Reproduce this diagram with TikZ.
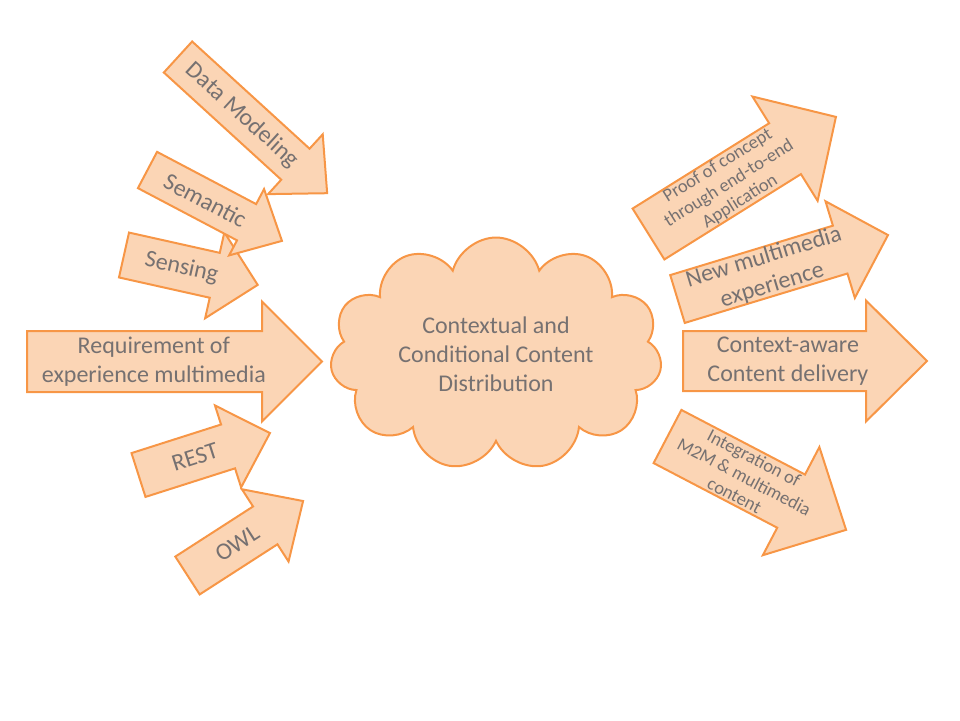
\documentclass[tikz,border=0pt]{standalone}
\usepackage{fontspec}
\setmainfont{Carlito}
\usetikzlibrary{shapes.symbols}
\definecolor{peach}{HTML}{FBD5B5}
\definecolor{orangeline}{HTML}{F79646}
\definecolor{textgray}{HTML}{767171}
% block arrow: name, tail x, tail y, angle, length, shaft, head width, head length, text
\newcommand{\blockarrow}[9]{%
  \begin{scope}[shift={(#2,#3)},rotate=#4]
    \filldraw[blockfill] (0,{-#6/2}) -- ({#5-#8},{-#6/2}) -- ({#5-#8},{-#7/2}) -- (#5,0)
      -- ({#5-#8},{#7/2}) -- ({#5-#8},{#6/2}) -- (0,{#6/2}) -- cycle;
    \node[blocklabel,rotate=#4] (#1) at ({0.43*#5},0) {#9};
  \end{scope}}
\begin{document}
\begin{tikzpicture}[x=1pt,y=-1pt,
    blockfill/.style={fill=peach,draw=orangeline,line width=2pt,line join=miter},
    blocklabel/.style={text=textgray,align=center,inner sep=0pt,font=\fontsize{24}{29}\selectfont},
    cloudbox/.style={cloud,cloud puffs=11,aspect=1.6,fill=peach,draw=orangeline,line width=2pt,
      minimum width=332pt,minimum height=207pt,text=textgray,align=center,
      font=\fontsize{24}{29}\selectfont}]
  \useasboundingbox (0,0) rectangle (960,720);
  % incoming
  \blockarrow{sensing}{124}{255}{-12.6}{137}{46}{88}{44}{Sensing}
  \blockarrow{semantic}{147.5}{170}{-27.8}{152}{41}{75}{40}{Semantic}
  \blockarrow{datamod}{178}{57}{-42.4}{202}{42}{81}{43}{Data Modeling}
  \blockarrow{require}{27}{361.5}{0}{295}{61}{120}{60}{Requirement of\\experience multimedia}
  \blockarrow{owl}{187.5}{575.5}{32.8}{137.5}{45}{86}{45}{OWL}
  \blockarrow{rest}{138.5}{475}{17.7}{138}{46}{86}{44}{REST}
  % cloud
  \node[cloudbox] (ccd) at (496,354) {Contextual and\\Conditional Content\\Distribution};
  % outgoing
  \begin{scope}[blocklabel/.append style={font=\fontsize{18.5}{21}\selectfont}]
    \blockarrow{proof}{648.5}{234}{32}{221}{60}{123}{60}{Proof of concept\\through end-to-end\\Application}
  \end{scope}
  \blockarrow{newexp}{677.5}{299}{16.9}{220}{50}{101}{50}{New multimedia\\experience}
  \blockarrow{delivery}{683}{361}{0}{244}{60}{121}{61}{Context-aware\\Content delivery}
  \begin{scope}[blocklabel/.append style={font=\fontsize{18.5}{21}\selectfont}]
    \blockarrow{m2m}{667.5}{436.5}{-27.6}{201.5}{60}{122}{62}{Integration of\\M2M \& multimedia\\content}
  \end{scope}
\end{tikzpicture}
\end{document}
